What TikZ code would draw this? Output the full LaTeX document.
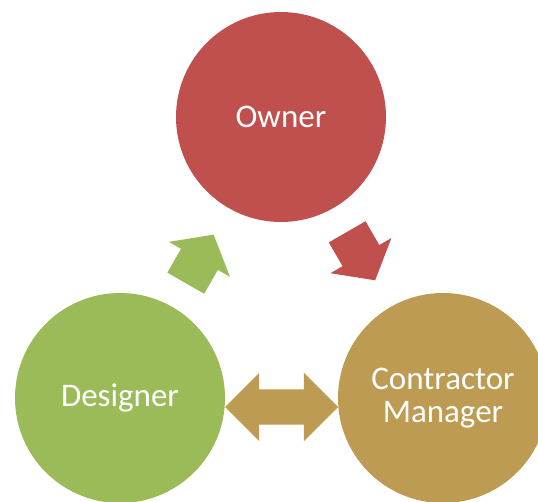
\documentclass[tikz,border=0pt]{standalone}
\usepackage{fontspec}
\setmainfont{Carlito}
\usetikzlibrary{shapes.arrows}
\definecolor{ownerred}{RGB}{192,80,77}
\definecolor{designgreen}{RGB}{155,187,89}
\definecolor{contractgold}{RGB}{190,155,82}
\begin{document}
\begin{tikzpicture}[x=1pt, y=-1pt,
  party/.style={circle, minimum size=210pt, inner sep=0pt, text=white,
    font=\fontsize{33}{33}\selectfont, align=center},
  flow/.style={single arrow, sloped, inner xsep=0pt, inner ysep=21pt,
    minimum height=56pt, single arrow head extend=14pt, single arrow tip angle=102}]
  \useasboundingbox (0,0) rectangle (538,502);
  \clip (0,0) rectangle (538,502);
  % Parties
  \node[party, fill=ownerred] (own) at (281,117) {Owner};
  \node[party, fill=designgreen] (des) at (120,398) {Designer};
  \node[party, fill=contractgold] (con) at (443,398) {Contractor\\Manager};
  % Block arrows between the parties
  \path (des) -- node[flow, pos=0.41, fill=designgreen] (desown) {} (own);
  \path (own) -- node[flow, pos=0.41, fill=ownerred] (owncon) {} (con);
  \path (des) -- node[double arrow, inner xsep=0pt, inner ysep=17.5pt,
    minimum height=113pt, double arrow head extend=16.5pt, yshift=-9pt,
    fill=contractgold] (descon) {} (con);
\end{tikzpicture}
\end{document}
